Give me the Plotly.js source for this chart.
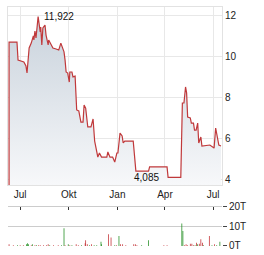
<!DOCTYPE html>
<html>
<head>
<meta charset="utf-8">
<script src="https://cdn.plot.ly/plotly-3.0.1.min.js"></script>
<style>html,body{margin:0;padding:0;background:#fff;}#chart{width:264px;height:255px;}</style>
</head>
<body>
<div id="chart"></div>
<script>
const priceDates = ['2024-06-10','2024-06-10','2024-06-25','2024-06-27','2024-07-08','2024-07-12','2024-07-14','2024-07-18','2024-07-22','2024-07-26','2024-07-27','2024-07-29','2024-07-31','2024-08-02','2024-08-04','2024-08-08','2024-08-09','2024-08-11','2024-08-13','2024-08-17','2024-08-19','2024-08-23','2024-08-24','2024-08-28','2024-09-01','2024-09-07','2024-09-12','2024-09-16','2024-09-20','2024-09-22','2024-09-24','2024-09-26','2024-09-29','2024-10-02','2024-10-03','2024-10-07','2024-10-09','2024-10-13','2024-10-16','2024-10-20','2024-10-24','2024-10-28','2024-10-30','2024-11-02','2024-11-06','2024-11-12','2024-11-16','2024-11-18','2024-11-19','2024-11-25','2024-11-28','2024-12-02','2024-12-12','2024-12-14','2024-12-18','2024-12-23','2024-12-27','2024-12-31','2025-01-02','2025-01-06','2025-01-10','2025-01-12','2025-01-15','2025-01-31','2025-02-05','2025-02-13','2025-03-01','2025-03-03','2025-04-05','2025-04-07','2025-05-01','2025-05-04','2025-05-07','2025-05-10','2025-05-12','2025-05-14','2025-05-19','2025-05-21','2025-05-25','2025-05-27','2025-05-30','2025-06-02','2025-06-04','2025-06-08','2025-06-10','2025-06-25','2025-07-01','2025-07-03','2025-07-06','2025-07-08','2025-07-12','2025-07-16'];
const priceValues = [3.7,10.68,10.68,9.80,9.71,9.51,9.17,10.39,10.63,10.98,10.78,11.22,10.88,11.27,11.922,11.17,11.41,10.54,11.37,11.51,11.02,10.54,10.78,10.59,10.39,10.34,10.29,10.63,10.29,10.2,9.80,9.22,9.17,8.73,9.22,9.22,8.98,9.02,7.37,7.32,6.78,6.78,7.61,7.46,6.54,6.54,6.93,6.15,5.85,5.07,5.27,5.07,5.07,5.32,5.07,5.07,4.83,5.27,5.27,6.24,6.1,5.76,5.85,5.85,4.39,4.39,4.39,4.59,4.59,4.085,4.085,7.71,7.71,8.49,8.2,7.02,6.98,6.73,6.73,6.39,6.39,6.73,5.76,6.05,5.61,5.66,5.51,5.51,6.49,6.24,5.66,5.61];

const volUpDates = ['2024-06-26','2024-07-13','2024-07-15','2024-07-17','2024-07-24','2024-08-01','2024-08-26','2024-09-17','2024-09-22','2024-09-30','2024-10-07','2024-10-25','2024-11-09','2024-11-18','2024-11-23','2024-12-01','2024-12-02','2024-12-27','2025-01-04','2025-02-16','2025-03-01','2025-05-03','2025-05-05','2025-05-28','2025-06-02','2025-06-13','2025-06-29','2025-07-08','2025-07-14'];
const volUpValues = [0.35,0.85,1.37,0.85,0.85,0.35,0.35,0.35,9.1,0.85,0.35,0.35,0.35,0.35,0.35,2.2,0.85,0.35,5.1,0.35,2.9,11.6,7.7,0.35,0.85,0.35,0.35,0.35,2.2];
const volDownDates = ['2024-06-10','2024-06-18','2024-07-01','2024-07-07','2024-07-22','2024-07-29','2024-08-05','2024-08-08','2024-08-14','2024-08-20','2024-08-23','2024-09-02','2024-09-11','2024-09-24','2024-10-03','2024-10-15','2024-10-19','2024-11-01','2024-11-02','2024-11-05','2024-11-13','2024-12-15','2024-12-20','2024-12-30','2025-01-07','2025-01-11','2025-01-17','2025-02-01','2025-02-04','2025-02-07','2025-03-30','2025-04-05','2025-05-08','2025-05-11','2025-05-14','2025-05-19','2025-05-22','2025-05-25','2025-05-31','2025-06-05','2025-06-08','2025-06-11','2025-06-24','2025-07-04'];
const volDownValues = [0.85,0.35,0.35,0.35,0.35,0.35,0.35,0.35,0.35,0.35,0.85,0.35,0.35,0.35,0.35,0.85,0.35,1.37,2.9,0.85,0.85,6.0,4.3,0.35,0.85,0.85,0.35,0.85,0.85,0.35,0.35,0.35,0.35,0.85,0.35,1.2,1.2,0.35,1.7,1.2,3.4,1.7,5.1,0.85];

const tickDates = ['2024-07-01','2024-10-01','2025-01-01','2025-04-01','2025-07-01'];
const tickLabels = ['Jul','Okt','Jan','Apr','Jul'];
const priceTicks = [4,6,8,10,12];
const volTicks = [0,10,20];
const volTickLabels = ['0T','10T','20T'];
const maxLabel = {date:'2024-08-04', value:11.922, text:'11,922'};
const minLabel = {date:'2025-04-07', value:4.085, text:'4,085'};

const barW = 1.4*86400000;
const traces = [
  {x: priceDates, y: priceValues, type:'scatter', mode:'lines', xaxis:'x', yaxis:'y',
   line:{color:'#c0393b', width:1.2}, fill:'tozeroy',
   fillgradient:{type:'vertical', start:3.7, stop:12.4, colorscale:[[0,'#f7f8fa'],[1,'#c6d0da']]},
   hoverinfo:'skip'},
  {x: volUpDates, y: volUpValues, type:'bar', xaxis:'x2', yaxis:'y2', width: barW,
   marker:{color:'#1a8a1a', line:{width:0}}},
  {x: volDownDates, y: volDownValues, type:'bar', xaxis:'x2', yaxis:'y2', width: barW,
   marker:{color:'#c0282d', line:{width:0}}}
];
const xr = ['2024-06-08','2025-07-18'];
const layout = {
  width:264, height:255,
  margin:{l:8, r:42, t:7, b:9},
  paper_bgcolor:'#fff', plot_bgcolor:'#fff',
  showlegend:false, barmode:'overlay',
  font:{family:'Liberation Sans, Arial, sans-serif', size:10, color:'#222'},
  xaxis:{domain:[0,1], anchor:'y', type:'date', range:xr, tickvals:tickDates, ticktext:tickLabels,
    showgrid:true, gridcolor:'#e8e8e8', showline:true, mirror:true, linecolor:'#e2e2e2', ticks:'', zeroline:false},
  yaxis:{domain:[0.2552,1], anchor:'x', side:'right', range:[3.71,12.39], tickvals:priceTicks,
    showgrid:true, gridcolor:'#e8e8e8', showline:true, mirror:true, linecolor:'#e2e2e2', ticks:'', zeroline:false},
  xaxis2:{domain:[0,1], anchor:'y2', type:'date', range:xr, side:'top', tickvals:tickDates,
    showticklabels:false, ticks:'inside', ticklen:3, tickcolor:'#333', showgrid:false,
    showline:true, linecolor:'#cccccc', zeroline:false},
  yaxis2:{domain:[0,0.1632], anchor:'x2', side:'right', range:[0,20], tickvals:volTicks, ticktext:volTickLabels,
    showgrid:true, gridcolor:'#cccccc', ticks:'outside', ticklen:4, tickcolor:'#444', showline:false, zeroline:false},
  annotations:[
    {x:maxLabel.date, y:maxLabel.value, xref:'x', yref:'y', text:maxLabel.text, showarrow:false,
     xanchor:'left', yanchor:'middle', xshift:4, font:{size:10, color:'#111'}},
    {x:minLabel.date, y:minLabel.value, xref:'x', yref:'y', text:minLabel.text, showarrow:false,
     xanchor:'right', yanchor:'middle', xshift:-7, font:{size:10, color:'#111'}}
  ]
};
Plotly.newPlot('chart', traces, layout, {staticPlot:true, displayModeBar:false});
</script>
</body>
</html>
